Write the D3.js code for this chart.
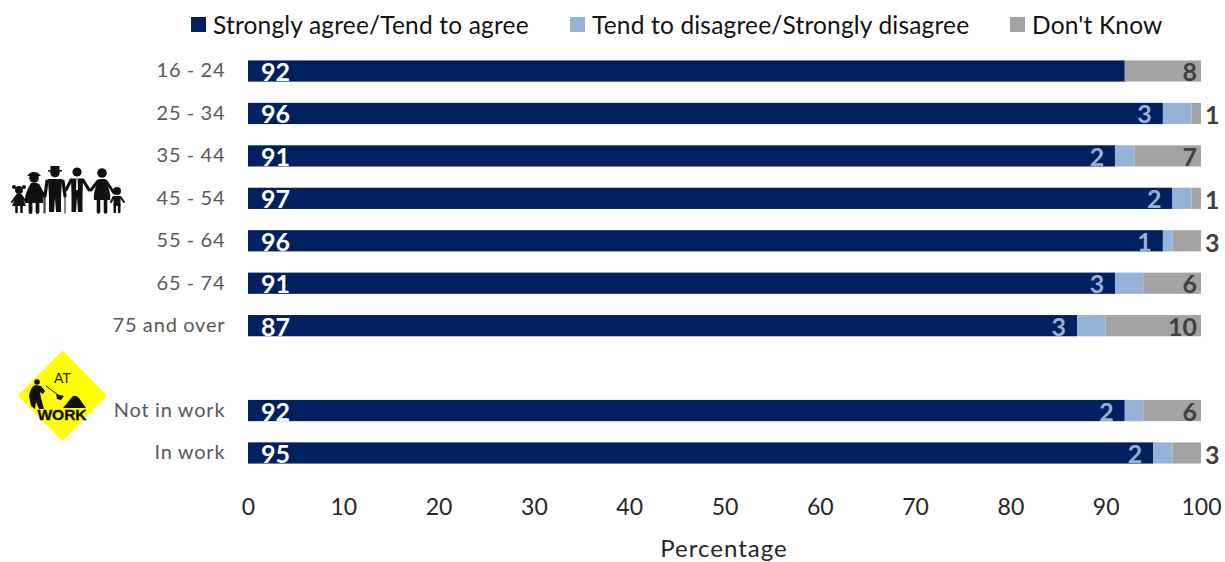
<!DOCTYPE html>
<html>
<head>
<meta charset="utf-8">
<script src="https://cdnjs.cloudflare.com/ajax/libs/d3/7.8.5/d3.min.js"></script>
<style>
  html, body { margin: 0; padding: 0; background: #fff; }
  svg { display: block; font-family: Lato, "Open Sans", sans-serif; }
</style>
</head>
<body>
<svg id="chart" width="1225" height="562"></svg>
<script>
// Survey responses by age band and employment status (percent)
const categories = ["16 - 24", "25 - 34", "35 - 44", "45 - 54", "55 - 64", "65 - 74", "75 and over", " ", "Not in work", "In work"];
const agree    = [92, 96, 91, 97, 96, 91, 87, null, 92, 95];
const disagree = [0, 3, 2, 2, 1, 3, 3, null, 2, 2];
const dontKnow = [8, 1, 7, 1, 3, 6, 10, null, 6, 3];
const seriesNames = ["Strongly agree/Tend to agree", "Tend to disagree/Strongly disagree", "Don't Know"];
const seriesColors = ["#002060", "#95B3D7", "#A3A3A3"];
const xTicks = [0, 10, 20, 30, 40, 50, 60, 70, 80, 90, 100];

const svg = d3.select("#chart");
const x = d3.scaleLinear().domain([0, 100]).range([248, 1201]);
const y = d3.scaleBand().domain(categories).range([49.8, 474.2]).paddingInner(0.5).paddingOuter(0.25);

// Stacked bars
const rows = categories.map((c, i) => ({ c, a: agree[i], d: disagree[i], k: dontKnow[i] })).filter(r => r.a !== null);
const stack = d3.stack().keys(["a", "d", "k"])(rows);
svg.append("g").selectAll("g").data(stack).join("g")
  .attr("fill", (s, i) => seriesColors[i])
  .selectAll("rect").data(s => s.map(p => ({ p, c: p.data.c }))).join("rect")
  .attr("x", d => x(d.p[0]))
  .attr("width", d => x(d.p[1]) - x(d.p[0]))
  .attr("y", d => y(d.c))
  .attr("height", y.bandwidth());

// Value labels
const labels = svg.append("g").attr("font-weight", 700).attr("font-size", 25).attr("dominant-baseline", "central");
labels.selectAll("text.a").data(rows).join("text").attr("class", "a")
  .attr("x", x(0) + 13)
  .attr("y", d => y(d.c) + y.bandwidth() / 2)
  .attr("fill", "#fff")
  .text(d => d.a);
labels.selectAll("text.d").data(rows.filter(r => r.d > 0)).join("text").attr("class", "d")
  .attr("x", d => x(d.a) - 11)
  .attr("y", d => y(d.c) + y.bandwidth() / 2)
  .attr("text-anchor", "end")
  .attr("fill", "#95B3D7")
  .text(d => d.d);
labels.selectAll("text.k").data(rows).join("text").attr("class", "k")
  .attr("x", d => d.k > 3 ? x(100) - 4 : x(100) + 4)
  .attr("y", d => y(d.c) + y.bandwidth() / 2 + (d.k > 3 ? 0 : 1))
  .attr("text-anchor", d => d.k > 3 ? "end" : "start")
  .attr("fill", "#404040")
  .text(d => d.k);

// Category axis
const yAxis = svg.append("g").attr("transform", "translate(225.5,0)")
  .call(d3.axisLeft(y).tickSize(0).tickPadding(0));
yAxis.select(".domain").remove();
yAxis.selectAll("text")
  .attr("font-family", "Lato, 'Open Sans', sans-serif")
  .attr("font-size", 20).attr("letter-spacing", 0.85).attr("word-spacing", -0.5).attr("fill", "#595959");

// Percentage axis
const xAxis = svg.append("g").attr("transform", "translate(0,507)")
  .call(d3.axisBottom(x).tickValues(xTicks).tickSize(0).tickPadding(0));
xAxis.select(".domain").remove();
xAxis.selectAll("text")
  .attr("dy", "0.36em")
  .attr("font-family", "Lato, 'Open Sans', sans-serif")
  .attr("font-size", 23).attr("fill", "#262626");
svg.append("text").attr("x", 724).attr("y", 547.5)
  .attr("text-anchor", "middle").attr("dominant-baseline", "central")
  .attr("font-size", 24).attr("letter-spacing", 1).attr("fill", "#262626")
  .text("Percentage");

// Legend
const legendSwatch = [191, 570, 1010];
const legend = svg.append("g").selectAll("g").data(seriesNames).join("g")
  .attr("transform", (d, i) => `translate(${legendSwatch[i]},0)`);
legend.append("rect").attr("y", 17).attr("width", 15).attr("height", 15)
  .attr("fill", (d, i) => seriesColors[i]);
legend.append("text").attr("x", 22).attr("y", 24)
  .attr("dominant-baseline", "central")
  .attr("font-size", 24.5).attr("letter-spacing", 0.18).attr("fill", "#111")
  .text(d => d);

// Family pictogram
const fam = svg.append("g").attr("fill", "#111").attr("stroke", "none");
function limb(g, pts, w) {
  g.append("path").attr("d", d3.line()(pts)).attr("fill", "none")
    .attr("stroke", "#111").attr("stroke-width", w).attr("stroke-linecap", "round").attr("stroke-linejoin", "round");
}
function person(cx, headY, r, bodyPath, legs, arms, lw) {
  const g = fam.append("g").attr("transform", `translate(${cx},0)`);
  g.append("circle").attr("cy", headY).attr("r", r);
  g.append("path").attr("d", bodyPath);
  legs.forEach(l => limb(g, l, lw));
  arms.forEach(l => limb(g, l, lw * 0.8));
  return g;
}
// girl
const girl = person(19, 190, 4, "M-2,194L2,194L7,206L-7,206Z",
  [[[-2.5, 205], [-2.5, 212]], [[2.5, 205], [2.5, 212]]], [[[-2, 195], [-7, 202]], [[2, 195], [7, 202]]], 2.6);
girl.append("circle").attr("cx", -5).attr("cy", 187).attr("r", 2);
girl.append("circle").attr("cx", 5).attr("cy", 187).attr("r", 2);
// grandmother with hat and cane
const gran = person(34, 178, 4.8, "M-3,183L3,183C6,188 10,196 9,203L-9,203C-10,196 -6,188 -3,183Z",
  [[[-3.5, 202], [-3.5, 212]], [[3.5, 202], [3.5, 212]]], [[[4, 185], [10, 196]]], 3.8);
gran.append("path").attr("d", "M-7,176L-4,173Q0,171 4,173L7,176Z");
limb(gran, [[10, 196], [10, 213]], 1);
// grandfather with top hat and cane
const grandpa = person(55, 172.5, 4.8, "M-7,179L7,179L6,197L6,212L1,212L0,198L-1,212L-6,212L-6,197Z", [], [[[-8, 181], [-10, 196]], [[8, 181], [10, 196]]], 4);
grandpa.append("path").attr("d", "M-4.5,170L-4.5,166L4.5,166L4.5,170L7,170L7,171.5L-7,171.5L-7,170Z");
limb(grandpa, [[-10, 196], [-10, 213]], 1);
limb(grandpa, [[10, 196], [10, 213]], 1);
// father, with white tie
const dad = person(77, 172, 4.6, "M-6,178.5L6,178.5L5.5,196L5.5,212L1,212L0,197L-1,212L-5.5,212L-5.5,196Z", [], [[[-6, 180], [-11, 190]], [[6, 180], [12, 190]]], 3.8);
dad.append("path").attr("d", "M-0.6,178.5L0.6,178.5L1,190L-1,190Z").attr("fill", "#fff");
// mother
person(102, 173, 4.8, "M-3,179L3,179C6,185 9,194 8,200L-8,200C-9,194 -6,185 -3,179Z",
  [[[-3.5, 199], [-3.5, 212]], [[3.5, 199], [3.5, 212]]], [[[-4, 181], [-11, 190]], [[4, 181], [12, 193]]], 3.6);
// boy
person(117, 191, 4, "M-3.5,196L3.5,196L3.5,206L-3.5,206Z",
  [[[-2.2, 205], [-2.2, 212]], [[2.2, 205], [2.2, 212]]], [[[-3.5, 197], [-6, 202]], [[3.5, 197], [7, 202]]], 2.6);

// Work-site warning sign
const sign = svg.append("g");
sign.append("path").attr("d", "M62.5,352L105.5,395.5L62.5,439.5L19.5,395.5Z")
  .attr("fill", "#FFFF00").attr("stroke", "#FFFF00").attr("stroke-width", 2).attr("stroke-linejoin", "round");
sign.append("text").attr("x", 62.5).attr("y", 383).attr("text-anchor", "middle")
  .attr("font-family", "'Liberation Sans', sans-serif").attr("font-size", 14).attr("fill", "#111").text("AT");
// spoil heap
sign.append("path").attr("d", "M63,408L72,397Q75,394 79,398L86,408Z").attr("fill", "#111");
// labourer with shovel
sign.append("circle").attr("cx", 37).attr("cy", 382).attr("r", 2.8).attr("fill", "#111");
sign.append("path").attr("d", "M35,385L41,386L45,391L43,394L40,392L41,398L44,409L39,409L36,402L35,409L31,406L29,396Q30,388 35,385Z").attr("fill", "#111");
sign.append("path").attr("d", "M46,386L58,395").attr("stroke", "#111").attr("stroke-width", 1).attr("fill", "none");
sign.append("path").attr("d", "M56,394L64,396L61,400L57,399Z").attr("fill", "#111");
sign.append("text").attr("x", 62).attr("y", 420).attr("text-anchor", "middle")
  .attr("font-family", "'Liberation Sans', sans-serif").attr("font-weight", 700).attr("font-size", 15.5)
  .attr("stroke", "#111").attr("stroke-width", 0.4).attr("fill", "#111").text("WORK");
</script>
</body>
</html>
